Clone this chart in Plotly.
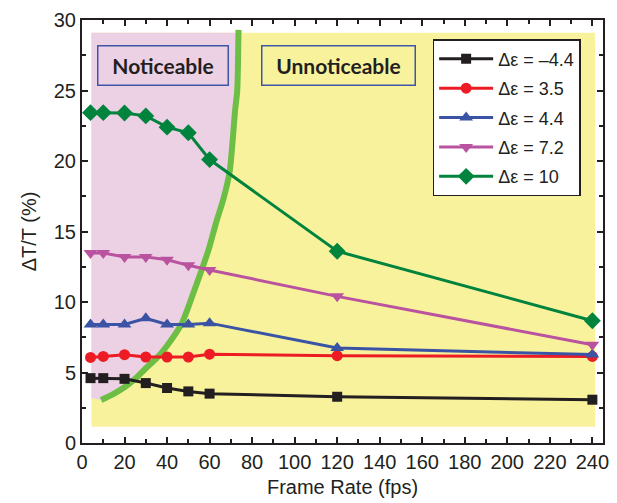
import plotly.graph_objects as go

# Frame rates (fps) and transmittance change ΔT/T (%) for each dielectric anisotropy
frame_rate = [4, 10, 20, 30, 40, 50, 60, 120, 240]
series_names = ["Δε = –4.4", "Δε = 3.5", "Δε = 4.4", "Δε = 7.2", "Δε = 10"]
dT_neg44 = [4.6, 4.6, 4.55, 4.25, 3.9, 3.66, 3.5, 3.28, 3.07]
dT_35 = [6.07, 6.14, 6.26, 6.1, 6.1, 6.1, 6.3, 6.19, 6.14]
dT_44 = [8.4, 8.4, 8.4, 8.85, 8.4, 8.4, 8.5, 6.74, 6.27]
dT_72 = [13.47, 13.47, 13.2, 13.2, 13.0, 12.6, 12.27, 10.4, 6.97]
dT_10 = [23.43, 23.43, 23.4, 23.2, 22.4, 22.0, 20.1, 13.6, 8.67]

# Flicker-visibility boundary (fps, ΔT/T %)
boundary_fps = [9, 14.5, 20, 25, 30, 35, 40, 47, 53, 59.5, 63, 66.5, 69.5, 72, 73, 73.6]
boundary_dT = [3.05, 3.45, 3.95, 4.55, 5.3, 6.0, 6.9, 8.5, 10.9, 13.7, 15.6, 17.3, 19.3, 23.6, 25.0, 29.3]

# Shaded region extents
region_fps = [4.4, 241.3]
region_dT = [1.15, 29.1]

x_ticks = list(range(0, 241, 20))
y_ticks = list(range(0, 31, 5))

ink = "#231f20"
pink = "#ecd0e4"
yellow = "#f9f29d"
curve_green = "#6cbe45"
colors = ["#231f20", "#ed1c24", "#3a53a4", "#b9529f", "#00843d"]
symbols = ["square", "circle", "triangle-up", "triangle-down", "diamond"]
sizes = [10, 11, 12, 12, 13]
series = [dT_neg44, dT_35, dT_44, dT_72, dT_10]

text_family = "Liberation Sans, Arial, sans-serif"

fig = go.Figure()

# "Noticeable" region: left of the boundary curve
pink_x = [region_fps[0], region_fps[0]] + boundary_fps[:-1] + [boundary_fps[-1], region_fps[0]]
pink_y = [region_dT[1], 3.2] + boundary_dT[:-1] + [region_dT[1], region_dT[1]]
fig.add_trace(go.Scatter(
    x=pink_x, y=pink_y, mode="lines", fill="toself", fillcolor=pink,
    line=dict(width=0, color=pink), hoverinfo="skip", showlegend=False))

# Boundary curve
fig.add_trace(go.Scatter(
    x=boundary_fps, y=boundary_dT, mode="lines",
    line=dict(color=curve_green, width=6, shape="spline", smoothing=0.6),
    hoverinfo="skip", showlegend=False))

for name, vals, c, sym, sz in zip(series_names, series, colors, symbols, sizes):
    fig.add_trace(go.Scatter(
        x=frame_rate, y=vals, mode="lines+markers", name=name, legendgroup=name,
        line=dict(color=c, width=3),
        marker=dict(symbol=sym, size=sz, color=c, line=dict(width=0))))

# "Unnoticeable" background rectangle
fig.add_shape(type="rect", xref="x", yref="y", layer="below",
              x0=region_fps[0], x1=region_fps[1], y0=region_dT[0], y1=region_dT[1],
              fillcolor=yellow, line=dict(width=0))

label_font = dict(family="Lato", size=21, color=ink, weight="bold")
fig.add_annotation(x=38, y=26.77, xref="x", yref="y", text="<b>Noticeable</b>",
                   showarrow=False, font=label_font, width=129, height=38,
                   bordercolor="#3f56a6", borderwidth=1.5, borderpad=0)
fig.add_annotation(x=120.4, y=26.77, xref="x", yref="y", text="<b>Unnoticeable</b>",
                   showarrow=False, font=label_font, width=152, height=38,
                   bordercolor="#3f56a6", borderwidth=1.5, borderpad=0)

axis_common = dict(
    showline=True, linecolor=ink, linewidth=2, mirror="allticks",
    ticks="inside", ticklen=6, tickwidth=1.5, tickcolor=ink,
    showgrid=False, zeroline=False,
    tickfont=dict(family=text_family, size=20, color=ink),
)

fig.update_xaxes(
    range=[0, 245], tickvals=x_ticks, ticktext=[str(v) for v in x_ticks],
    minor=dict(ticks="inside", dtick=10, tick0=0, ticklen=4, tickwidth=1.5, tickcolor=ink),
    title=dict(text="Frame Rate (fps)", font=dict(family=text_family, size=20, color=ink),
               standoff=8),
    **axis_common)
fig.update_yaxes(
    range=[0, 30], tickvals=y_ticks, ticktext=[str(v) for v in y_ticks],
    minor=dict(ticks="inside", dtick=2.5, tick0=0, ticklen=4, tickwidth=1.5, tickcolor=ink),
    title=dict(text="ΔT/T (%)", font=dict(family=text_family, size=20, color=ink),
               standoff=12),
    **axis_common)

fig.update_layout(
    width=617, height=503,
    margin=dict(l=82, r=8, t=20, b=60),
    plot_bgcolor="white", paper_bgcolor="white",
    legend=dict(
        x=0.673, y=0.955, xanchor="left", yanchor="top",
        bgcolor="white", bordercolor=ink, borderwidth=1.5,
        font=dict(family=text_family, size=18, color=ink),
        tracegroupgap=3, itemwidth=54,
    ),
)

fig.write_html("out.html")
